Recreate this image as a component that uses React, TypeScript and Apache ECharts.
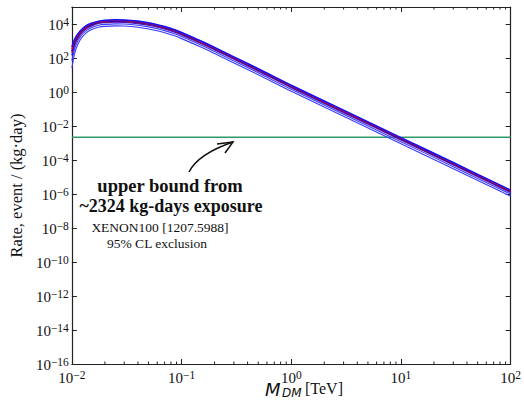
import React, { useEffect, useRef } from 'react';
import * as echarts from 'echarts';

// Dark-matter mass grid (TeV)
const massTeV = [0.01, 0.0105, 0.011, 0.012, 0.0135, 0.015, 0.0175, 0.02, 0.025, 0.03, 0.04, 0.05, 0.06, 0.07, 0.085, 0.1, 0.15, 0.2, 0.3, 0.5, 1, 3, 10, 30, 100];

// log10 of rate (event / (kg·day)) for each curve
const rateExpA = [2.65, 3.05, 3.3, 3.62, 3.9, 4.04, 4.17, 4.22, 4.25, 4.24, 4.17, 4.07, 3.96, 3.85, 3.68, 3.5, 3.0, 2.62, 2.07, 1.37, 0.4, -1.07, -2.68, -4.15, -5.77];
const rateExpB = [2.53, 2.96, 3.23, 3.57, 3.86, 4.005, 4.14, 4.19, 4.22, 4.21, 4.14, 4.04, 3.93, 3.82, 3.65, 3.47, 2.97, 2.59, 2.04, 1.34, 0.37, -1.1, -2.71, -4.18, -5.8];
const rateExpC = [2.4, 2.86, 3.15, 3.51, 3.81, 3.96, 4.1, 4.15, 4.18, 4.17, 4.1, 4.0, 3.89, 3.78, 3.61, 3.43, 2.93, 2.55, 2.0, 1.3, 0.33, -1.14, -2.75, -4.22, -5.84];
const rateExpD = [2.3, 2.78, 3.09, 3.46, 3.77, 3.93, 4.07, 4.12, 4.15, 4.14, 4.07, 3.97, 3.86, 3.75, 3.58, 3.4, 2.9, 2.52, 1.97, 1.27, 0.3, -1.17, -2.78, -4.25, -5.87];
const rateExpE = [2.15, 2.67, 3.0, 3.4, 3.72, 3.88, 4.03, 4.08, 4.11, 4.1, 4.03, 3.93, 3.82, 3.71, 3.54, 3.36, 2.86, 2.48, 1.93, 1.23, 0.26, -1.21, -2.82, -4.29, -5.91];
const rateExpF = [1.85, 2.45, 2.83, 3.27, 3.61, 3.78, 3.93, 3.98, 4.01, 4.0, 3.93, 3.83, 3.72, 3.61, 3.44, 3.26, 2.76, 2.38, 1.83, 1.13, 0.16, -1.31, -2.92, -4.39, -6.01];
const rateExpG = [1.4, 2.15, 2.6, 3.1, 3.48, 3.66, 3.81, 3.86, 3.89, 3.88, 3.81, 3.71, 3.6, 3.49, 3.32, 3.14, 2.64, 2.26, 1.71, 1.01, 0.04, -1.43, -3.04, -4.51, -6.13];

// XENON100 95% CL upper bound
const boundRate = 2.2e-3;

// axis extents and minor ticks
const xMin = 0.01;
const xMax = 100;
const yMin = 1e-16;
const yMax = 1e5;
const xMinorTicks = [
  0.02, 0.03, 0.04, 0.05, 0.06, 0.07, 0.08, 0.09,
  0.2, 0.3, 0.4, 0.5, 0.6, 0.7, 0.8, 0.9,
  2, 3, 4, 5, 6, 7, 8, 9,
  20, 30, 40, 50, 60, 70, 80, 90,
];

const curves = [
  { exps: rateExpG, color: '#3a3aff', width: 1.1 },
  { exps: rateExpF, color: '#3a3aff', width: 1.1 },
  { exps: rateExpE, color: '#1515ff', width: 1.3 },
  { exps: rateExpD, color: '#e01010', width: 1.5 },
  { exps: rateExpC, color: '#0000e0', width: 1.5 },
  { exps: rateExpB, color: '#e01010', width: 1.5 },
  { exps: rateExpA, color: '#1010ff', width: 1.5 },
];

const SERIF = "'Liberation Serif', 'DejaVu Serif', serif";
const SANS = "'DejaVu Sans', sans-serif";
const INK = '#111';

function expLabel(v: number, skipOdd: boolean) {
  const e = Math.round(Math.log10(v));
  if (skipOdd && (e % 2 !== 0)) return '';
  const s = e < 0 ? '\u2212' + (-e) : String(e);
  return '{b|10}{s|' + s + '}';
}

const richTick = {
  b: { fontFamily: SERIF, fontSize: 15, lineHeight: 16, verticalAlign: 'bottom', color: INK },
  s: { fontFamily: SERIF, fontSize: 11.5, lineHeight: 6, verticalAlign: 'top', color: INK },
};

export default function App() {
  const ref = useRef<HTMLDivElement>(null);
  useEffect(() => {
    if (!ref.current) return;
    const chart = echarts.init(ref.current, undefined, { renderer: 'svg' });
    const axisLineStyle = { color: '#222', width: 1.2 };
    const option: any = {
      animation: false,
      backgroundColor: '#fff',
      grid: { left: 65, right: 12, top: 7, bottom: 37, containLabel: false },
      xAxis: [
        {
          type: 'log', min: xMin, max: xMax, position: 'bottom',
          axisLine: { show: true, lineStyle: axisLineStyle },
          axisTick: { show: true, inside: true, length: 5, lineStyle: { color: '#222' } },
          axisLabel: { formatter: (v: number) => expLabel(v, false), rich: richTick, margin: 5 },
          splitLine: { show: false },
        },
        {
          type: 'log', min: xMin, max: xMax, position: 'top',
          axisLine: { show: true, lineStyle: axisLineStyle },
          axisTick: { show: true, inside: true, length: 5, lineStyle: { color: '#222' } },
          axisLabel: { show: false },
          splitLine: { show: false },
        },
      ],
      yAxis: [
        {
          type: 'log', min: yMin, max: yMax, interval: 2, position: 'left',
          axisLine: { show: true, lineStyle: axisLineStyle },
          axisTick: { show: true, inside: true, length: 5, lineStyle: { color: '#222' } },
          axisLabel: { formatter: (v: number) => expLabel(v, true), rich: richTick, margin: 3 },
          splitLine: { show: false },
          name: 'Rate, event / (kg\u00b7day)',
          nameLocation: 'middle',
          nameGap: 40,
          nameTextStyle: { fontFamily: SERIF, fontSize: 16.5, color: INK },
        },
        {
          type: 'log', min: yMin, max: yMax, interval: 2, position: 'right',
          axisLine: { show: true, lineStyle: axisLineStyle },
          axisTick: { show: true, inside: true, length: 5, lineStyle: { color: '#222' } },
          axisLabel: { show: false },
          splitLine: { show: false },
        },
      ],
      series: [
        {
          type: 'line',
          data: [[xMin, boundRate], [xMax, boundRate]],
          showSymbol: false,
          lineStyle: { color: '#2f9a68', width: 1.4 },
          z: 2,
        },
        ...curves.map((c, i) => ({
          type: 'line',
          data: massTeV.map((m, j) => [m, Math.pow(10, c.exps[j])]),
          showSymbol: false,
          smooth: 0.35,
          lineStyle: { color: c.color, width: c.width },
          z: 3 + i,
        })),
        {
          type: 'custom',
          data: xMinorTicks.map((v) => [v, 1]),
          encode: { x: 0, y: 1 },
          clip: false,
          silent: true,
          z: 20,
          renderItem: (params: any, api: any) => {
            const v = api.value(0);
            const b = api.coord([v, yMin]);
            const t = api.coord([v, yMax]);
            return {
              type: 'group',
              children: [
                { type: 'line', shape: { x1: b[0], y1: b[1], x2: b[0], y2: b[1] - 2.5 }, style: { stroke: '#222', lineWidth: 1 } },
                { type: 'line', shape: { x1: t[0], y1: t[1], x2: t[0], y2: t[1] + 2.5 }, style: { stroke: '#222', lineWidth: 1 } },
              ],
            };
          },
        },
      ],
      graphic: [
        {
          type: 'text',
          style: { text: 'M', x: 265, y: 389, align: 'left', verticalAlign: 'middle', font: "italic 18px 'DejaVu Sans', sans-serif", lineHeight: 14, fill: INK },
        },
        {
          type: 'text',
          style: { text: 'DM', x: 282, y: 393, align: 'left', verticalAlign: 'middle', font: "italic 12px 'DejaVu Sans', sans-serif", lineHeight: 10, fill: INK },
        },
        {
          type: 'text',
          style: { text: '[TeV]', x: 305, y: 388, align: 'left', verticalAlign: 'middle', font: "16px 'Liberation Serif', serif", lineHeight: 14, fill: INK },
        },
        {
          type: 'text',
          style: { text: 'upper bound from', x: 170, y: 186, align: 'center', verticalAlign: 'middle', font: "bold 18.5px 'Liberation Serif', serif", fill: INK },
        },
        {
          type: 'text',
          style: { text: '~2324 kg-days exposure', x: 171, y: 206, align: 'center', verticalAlign: 'middle', font: "bold 18px 'Liberation Serif', serif", fill: INK },
        },
        {
          type: 'text',
          style: { text: 'XENON100 [1207.5988]', x: 160, y: 227, align: 'center', verticalAlign: 'middle', font: "13.5px 'Liberation Serif', serif", fill: INK },
        },
        {
          type: 'text',
          style: { text: '95% CL exclusion', x: 157, y: 243, align: 'center', verticalAlign: 'middle', font: "13.5px 'Liberation Serif', serif", fill: INK },
        },
        {
          type: 'bezierCurve',
          shape: { x1: 189, y1: 172, cpx1: 198, cpy1: 154, x2: 233, y2: 142 },
          style: { stroke: '#111', lineWidth: 1.5, fill: null },
        },
        {
          type: 'polyline',
          shape: { points: [[217, 144], [233, 142], [225, 153]] },
          style: { stroke: '#111', lineWidth: 1.5, fill: null },
        },
      ],
    };
    chart.setOption(option);
    return () => chart.dispose();
  }, []);
  return (
    <div
      ref={ref}
      style={{ position: 'fixed', left: 0, top: 0, width: 524, height: 401, background: '#fff' }}
    />
  );
}
